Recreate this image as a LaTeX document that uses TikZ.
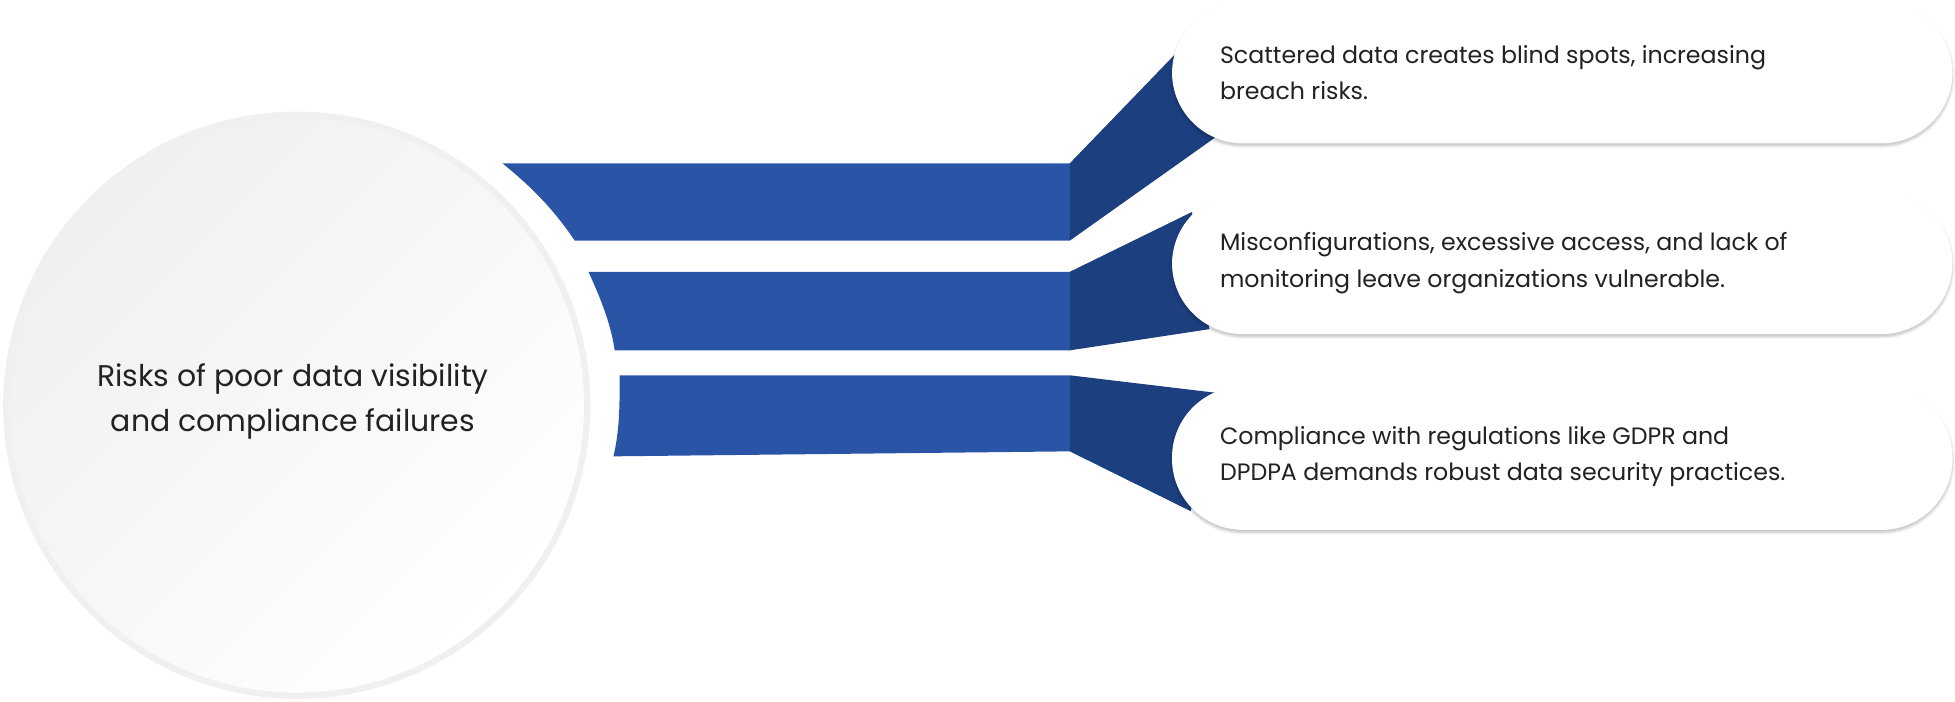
\documentclass[tikz,border=0pt]{standalone}
\usepackage{fontspec}
\setmainfont{Poppins}
\usetikzlibrary{shadows.blur}
\definecolor{bandL}{HTML}{2A55A6}
\definecolor{bandD}{HTML}{1C3F80}
\definecolor{txt}{HTML}{222222}
\begin{document}
\begin{tikzpicture}[x=1pt,y=-1pt,
  pill/.style={fill=white,rounded corners=57pt,blur shadow={shadow blur steps=6,shadow xshift=0pt,shadow yshift=-2pt,shadow opacity=25}},
  lbl/.style={anchor=west,align=left,text=txt,font=\fontsize{19}{29}\selectfont}]
\useasboundingbox (0,0) rectangle (1568,563);
% circle
\shade[inner color=white,outer color=white,left color=gray!10,right color=white] (238,325) circle (235);
\fill[left color=gray!12,right color=white,shading angle=45] (238,325) circle (232);
\draw[line width=5pt,color=gray!12] (238,325) circle (233);
\node[align=center,text=txt,font=\fontsize{24}{36}\selectfont] (c) at (235,322) {Risks of poor data visibility\\and compliance failures};
% bands
\fill[bandL] (403,131) -- (858,131) -- (858,193) -- (461,193) .. controls (440,162) and (420,145) .. (403,131);
\fill[bandD] (858,131) -- (942,44) -- (975,110) -- (858,193) -- cycle;
\fill[bandL] (472,218) -- (858,218) -- (858,281) -- (493,281) .. controls (490,260) and (482,240) .. (472,218);
\fill[bandD] (858,218) -- (956,170) -- (970,264) -- (858,281) -- cycle;
\fill[bandL] (497,301) -- (858,301) -- (858,362) -- (492,366) .. controls (497,345) and (497,325) .. (497,301);
\fill[bandD] (858,301) -- (975,315) -- (955,410) -- (858,362) -- cycle;
% boxes
\path[pill] (940,2) rectangle (1566,115);
\path[pill] (940,155) rectangle (1566,268);
\path[pill] (940,310) rectangle (1566,425);
\node[lbl] (t1) at (975,58) {Scattered data creates blind spots, increasing\\breach risks.};
\node[lbl] (t2) at (975,211) {Misconfigurations, excessive access, and lack of\\monitoring leave organizations vulnerable.};
\node[lbl] (t3) at (975,366) {Compliance with regulations like GDPR and\\DPDPA demands robust data security practices.};
\end{tikzpicture}
\end{document}
